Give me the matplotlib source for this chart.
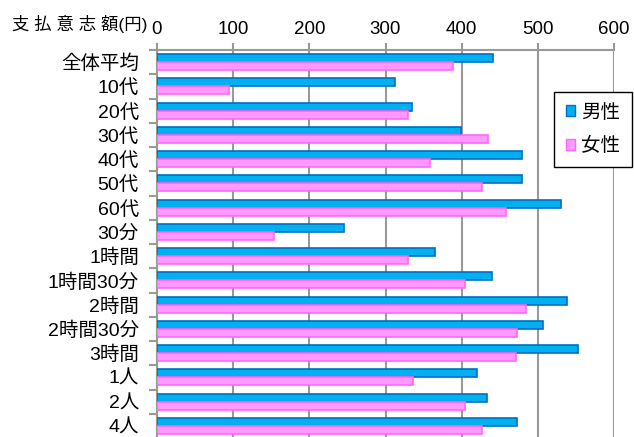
import numpy as np
import matplotlib
matplotlib.use('Agg')
import matplotlib.pyplot as plt
from matplotlib.patches import Patch

plt.rcParams['font.family'] = ['Liberation Sans', 'Noto Sans CJK JP']

# カテゴリと男女別の支払意志額(円)
categories = ['全体平均', '10代', '20代', '30代', '40代', '50代', '60代',
              '30分', '1時間', '1時間30分', '2時間', '2時間30分', '3時間',
              '1人', '2人', '4人']
male = [441, 312, 335, 399, 479, 479, 531, 245, 365, 440, 538, 507, 553, 420, 433, 472]
female = [389, 95, 329, 435, 359, 427, 458, 154, 330, 405, 485, 472, 471, 336, 405, 427]
xticks = [0, 100, 200, 300, 400, 500, 600]

male_fc, male_ec = '#00B0F0', '#0070C0'
fem_fc, fem_ec = '#FF99FF', '#FF66FF'

fig = plt.figure(figsize=(6.34, 4.37), dpi=100)
ax = fig.add_axes([157 / 634, -0.0023, 457 / 634, 388 / 437])

y = np.arange(len(categories))
h = 0.33
ax.barh(y - h / 2, male, height=h, color=male_fc, edgecolor=male_ec, linewidth=1.2, zorder=3)
ax.barh(y + h / 2, female, height=h, color=fem_fc, edgecolor=fem_ec, linewidth=1.2, zorder=3)

ax.set_xlim(0, 600)
ax.set_ylim(len(categories) - 0.5, -0.5)

ax.xaxis.tick_top()
ax.set_xticks(xticks)
ax.set_xticklabels([str(v) for v in xticks], fontsize=13.5)
ax.tick_params(axis='x', direction='out', length=5, width=1.5, color='#999999', pad=4)
ax.grid(axis='x', color='#999999', linewidth=1.5, zorder=0)

ax.set_yticks(y)
ax.set_yticklabels(categories, fontsize=14)
ax.tick_params(axis='y', which='major', length=0, pad=13)
ax.set_yticks(np.arange(-0.5, len(categories), 1), minor=True)
ax.tick_params(axis='y', which='minor', direction='out', length=6, width=1.5, color='#999999')

for s in ['right', 'bottom']:
    ax.spines[s].set_visible(False)
for s in ['top', 'left']:
    ax.spines[s].set_color('#999999')
    ax.spines[s].set_linewidth(1.5)

fig.text(12 / 634, 1 - 24 / 437, '支 払 意 志 額(円)', fontsize=12.5,
         ha='left', va='center')

handles = [Patch(facecolor=male_fc, edgecolor=male_ec, label='男性'),
           Patch(facecolor=fem_fc, edgecolor=fem_ec, label='女性')]
leg = fig.legend(handles=handles, loc='upper right',
                 bbox_to_anchor=(632 / 634, 1 - 92 / 437), fontsize=14,
                 frameon=True, fancybox=False, edgecolor='black', framealpha=1,
                 handlelength=0.5, handleheight=0.5, handletextpad=0.3,
                 labelspacing=0.8, borderpad=0.6, borderaxespad=0)
leg.get_frame().set_linewidth(1.0)

fig.savefig('out.png', dpi=100)
